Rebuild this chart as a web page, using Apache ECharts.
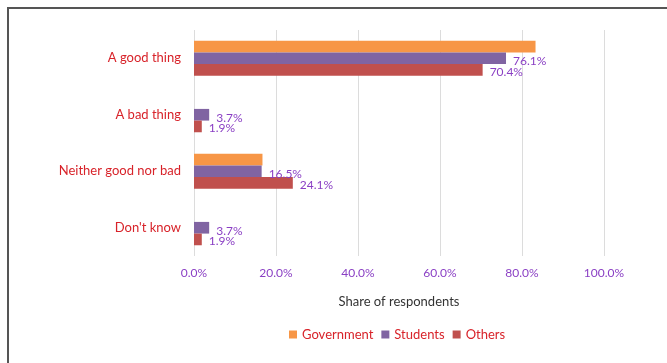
<!DOCTYPE html>
<html>
<head>
<meta charset="utf-8">
<script src="https://cdn.jsdelivr.net/npm/echarts@6/dist/echarts.min.js"></script>
<style>
  html, body { margin: 0; padding: 0; background: #fff; }
  #chart { width: 667px; height: 363px; }
</style>
</head>
<body>
<div id="chart"></div>
<script>
// Survey answers, top to bottom
const categories = ['A good thing', 'A bad thing', 'Neither good nor bad', "Don't know"];
// Share of respondents (%) per group
const government = [83.3, 0, 16.7, 0];
const students = [76.1, 3.7, 16.5, 3.7];
const others = [70.4, 1.9, 24.1, 1.9];
const xTicks = [0, 20, 40, 60, 80, 100];

const FONT = 'Lato, "Open Sans", sans-serif';
const LABEL_PURPLE = '#8a3fc4';
const TEXT_RED = '#d8232a';

const chart = echarts.init(document.getElementById('chart'), null, { renderer: 'canvas' });

function valueLabel(dy) {
  return {
    show: true,
    position: 'right',
    distance: 7,
    offset: [0, dy],
    color: LABEL_PURPLE,
    fontFamily: FONT,
    fontSize: 12,
    formatter: p => p.value.toFixed(1) + '%'
  };
}

chart.setOption({
  animation: false,
  backgroundColor: '#fff',
  graphic: [{
    type: 'rect',
    shape: { x: 8, y: 8, width: 700, height: 400 },
    style: { fill: 'none', stroke: '#555', lineWidth: 2 },
    silent: true
  }],
  grid: { left: 194, right: 63, top: 30, bottom: 107 },
  legend: {
    bottom: 17,
    left: 284,
    icon: 'rect',
    itemWidth: 8,
    itemHeight: 8,
    itemGap: 8,
    textStyle: { color: TEXT_RED, fontFamily: FONT, fontSize: 13 },
    data: ['Government', 'Students', 'Others']
  },
  xAxis: {
    type: 'value',
    min: xTicks[0],
    max: xTicks[xTicks.length - 1],
    interval: 20,
    name: 'Share of respondents',
    nameLocation: 'middle',
    nameGap: 39,
    nameTextStyle: { color: '#333', fontFamily: FONT, fontSize: 13 },
    axisLine: { show: false },
    axisTick: { show: false },
    axisLabel: {
      color: LABEL_PURPLE,
      fontFamily: FONT,
      fontSize: 12,
      margin: 11,
      formatter: v => v.toFixed(1) + '%'
    },
    splitLine: { show: true, lineStyle: { color: '#dcdcdc', width: 1 } }
  },
  yAxis: {
    type: 'category',
    inverse: true,
    data: categories,
    axisLine: { show: false },
    axisTick: { show: false },
    axisLabel: { color: TEXT_RED, fontFamily: FONT, fontSize: 13, margin: 13 }
  },
  series: [
    {
      name: 'Government', type: 'bar', data: government,
      barGap: '0%', barCategoryGap: '38%',
      itemStyle: { color: '#f79646' }
    },
    {
      name: 'Students', type: 'bar', data: students,
      barGap: '0%', barCategoryGap: '38%',
      itemStyle: { color: '#8064a2' },
      label: valueLabel(3)
    },
    {
      name: 'Others', type: 'bar', data: others,
      barGap: '0%', barCategoryGap: '38%',
      itemStyle: { color: '#c0504d' },
      label: valueLabel(2)
    }
  ]
});
</script>
</body>
</html>
